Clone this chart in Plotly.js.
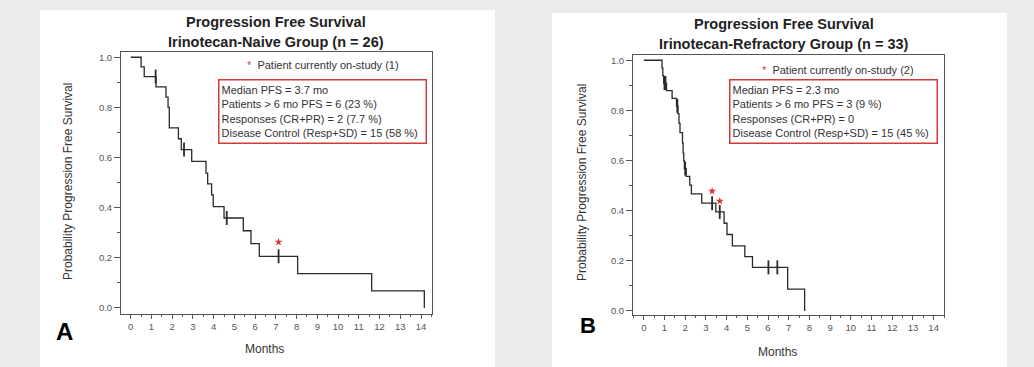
<!DOCTYPE html>
<html>
<head>
<meta charset="utf-8">
<script src="https://cdn.plot.ly/plotly-3.0.1.min.js"></script>
<style>html,body{margin:0;padding:0;background:#ebebeb;}#chart{width:1034px;height:367px;}</style>
</head>
<body>
<div id="chart"></div>
<script>
// ---- Data ----
// Panel A: Irinotecan-Naive Group (n = 26)
const naiveTimes = [0, 0.5, 0.65, 1.22, 1.7, 1.8, 1.86, 2.3, 2.44, 2.94, 3.63, 3.71, 3.9, 3.98, 4.5, 5.43, 5.8, 6.2, 8.05, 11.62, 14.16];
const naiveSurv  = [1.0, 0.962, 0.923, 0.882, 0.841, 0.80, 0.718, 0.675, 0.632, 0.585, 0.538, 0.495, 0.451, 0.404, 0.359, 0.308, 0.257, 0.206, 0.137, 0.068, 0.0];
const naiveCensorTimes = [1.2, 2.57, 4.63, 7.13];
const naiveCensorSurv  = [0.923, 0.632, 0.359, 0.206];
const naiveOnStudyTimes = [7.13];
const naiveOnStudySurv  = [0.263];

// Panel B: Irinotecan-Refractory Group (n = 33)
const refrTimes = [0, 0.88, 0.92, 0.96, 1.1, 1.37, 1.58, 1.65, 1.7, 1.75, 1.87, 1.9, 1.93, 1.96, 2.05, 2.22, 2.3, 2.8, 3.48, 3.88, 4.02, 4.28, 4.88, 5.25, 6.95, 7.77];
const refrSurv  = [1.0, 0.970, 0.939, 0.909, 0.879, 0.848, 0.818, 0.787, 0.748, 0.711, 0.670, 0.630, 0.600, 0.568, 0.537, 0.502, 0.467, 0.430, 0.395, 0.350, 0.305, 0.260, 0.217, 0.174, 0.087, 0.0];
const refrCensorTimes = [1.0, 1.05, 1.62, 2.0, 3.3, 3.67, 6.02, 6.45];
const refrCensorSurv  = [0.909, 0.909, 0.818, 0.568, 0.430, 0.395, 0.174, 0.174];
const refrOnStudyTimes = [3.3, 3.67];
const refrOnStudySurv  = [0.478, 0.438];

// Text
const titleLine1 = "Progression Free Survival";
const titleA = "Irinotecan-Naive Group (n = 26)";
const titleB = "Irinotecan-Refractory Group (n = 33)";
const xTitle = "Months";
const yTitle = "Probability Progression Free Survival";
const noteA = "Patient currently on-study (1)";
const noteB = "Patient currently on-study (2)";
const statsA = ["Median PFS = 3.7 mo", "Patients > 6 mo PFS = 6 (23 %)", "Responses (CR+PR) = 2 (7.7 %)", "Disease Control (Resp+SD) = 15 (58 %)"];
const statsB = ["Median PFS = 2.3 mo", "Patients > 6 mo PFS = 3 (9 %)", "Responses (CR+PR) = 0", "Disease Control (Resp+SD) = 15 (45 %)"];
const xTickVals = [0,1,2,3,4,5,6,7,8,9,10,11,12,13,14];
const yTickVals = [0, 0.2, 0.4, 0.6, 0.8, 1.0];

// ---- Styling ----
const FONT = "Liberation Sans, Arial, Helvetica, sans-serif";
const W = 1034, H = 367;
const px = v => v / W;
const py = v => 1 - v / H;
const lineCol = "#2a2a2a";
const red = "#d23a3a";

function curve(x, y, xa, ya) {
  return {x: x, y: y, xaxis: xa, yaxis: ya, type: "scatter", mode: "lines",
          line: {shape: "hv", color: lineCol, width: 1.3}, hoverinfo: "skip", showlegend: false};
}
function censor(x, y, xa, ya) {
  return {x: x, y: y, xaxis: xa, yaxis: ya, type: "scatter", mode: "markers",
          marker: {symbol: "line-ns", size: 10, color: lineCol, line: {width: 1.8, color: lineCol}},
          hoverinfo: "skip", showlegend: false};
}
function onStudy(x, y, xa, ya) {
  return {x: x, y: y, xaxis: xa, yaxis: ya, type: "scatter", mode: "markers",
          marker: {symbol: "star", size: 6, color: red, line: {width: 0}},
          hoverinfo: "skip", showlegend: false};
}

const data = [
  curve(naiveTimes, naiveSurv, "x", "y"),
  censor(naiveCensorTimes, naiveCensorSurv, "x", "y"),
  onStudy(naiveOnStudyTimes, naiveOnStudySurv, "x", "y"),
  curve(refrTimes, refrSurv, "x2", "y2"),
  censor(refrCensorTimes, refrCensorSurv, "x2", "y2"),
  onStudy(refrOnStudyTimes, refrOnStudySurv, "x2", "y2")
];

function xAxis(domain, range, anchor) {
  return {domain: domain, range: range, anchor: anchor, tickvals: xTickVals,
          ticks: "outside", ticklen: 4, tickwidth: 1, tickcolor: "#555",
          showline: true, linecolor: "#555", linewidth: 1, mirror: true,
          showgrid: false, zeroline: false, fixedrange: true,
          tickfont: {family: FONT, size: 9.5, color: "#555"},
          minor: {dtick: 0.5, tick0: 0, ticks: "outside", ticklen: 2, tickcolor: "#555", showgrid: false}};
}
function yAxis(domain, range, anchor) {
  return {domain: domain, range: range, anchor: anchor, tickvals: yTickVals, tickformat: ".1f",
          ticks: "outside", ticklen: 6, tickwidth: 1, tickcolor: "#555",
          showline: true, linecolor: "#555", linewidth: 1, mirror: true,
          showgrid: false, zeroline: false, fixedrange: true,
          tickfont: {family: FONT, size: 9.5, color: "#555"},
          minor: {dtick: 0.1, tick0: 0, ticks: "outside", ticklen: 3, tickcolor: "#555", showgrid: false}};
}

function txt(x, y, text, opts) {
  return Object.assign({xref: "paper", yref: "paper", x: px(x), y: py(y), text: text, showarrow: false,
                        xanchor: "center", yanchor: "middle",
                        font: {family: FONT, size: 12, color: "#333"}}, opts || {});
}

const titleFont = {family: FONT, size: 14.5, color: "#222"};
const annotations = [
  // titles
  txt(276, 22, "<b>" + titleLine1 + "</b>", {font: titleFont}),
  txt(276, 42, "<b>" + titleA + "</b>", {font: titleFont}),
  txt(784, 24, "<b>" + titleLine1 + "</b>", {font: titleFont}),
  txt(784, 44, "<b>" + titleB + "</b>", {font: titleFont}),
  // axis titles
  txt(264, 349, xTitle),
  txt(777, 352, xTitle),
  txt(68, 182, yTitle, {textangle: -90}),
  txt(582, 183, yTitle, {textangle: -90}),
  // panel letters
  txt(64, 331, "<b>A</b>", {font: {family: FONT, size: 24, color: "#000"}}),
  txt(588, 325, "<b>B</b>", {font: {family: FONT, size: 22, color: "#000"}}),
  // on-study notes
  txt(245, 65, '<span style="color:' + red + '">*</span>  ' + noteA, {xanchor: "left", font: {family: FONT, size: 11, color: "#333"}}),
  txt(760, 70, '<span style="color:' + red + '">*</span>  ' + noteB, {xanchor: "left", font: {family: FONT, size: 11, color: "#333"}}),
  // stats boxes
  txt(218, 78.5, statsA.join("<br>"), {xanchor: "left", yanchor: "top", align: "left", width: 202, height: 58,
      bordercolor: red, borderwidth: 1.5, borderpad: 2, bgcolor: "#fff", valign: "middle",
      font: {family: FONT, size: 11, color: "#333"}}),
  txt(729, 79, statsB.join("<br>"), {xanchor: "left", yanchor: "top", align: "left", width: 202, height: 58,
      bordercolor: red, borderwidth: 1.5, borderpad: 2, bgcolor: "#fff", valign: "middle",
      font: {family: FONT, size: 11, color: "#333"}})
];

const shapes = [
  {type: "rect", xref: "paper", yref: "paper", x0: px(40), x1: px(495), y0: 0, y1: py(10), fillcolor: "#fff", line: {width: 0}, layer: "below"},
  {type: "rect", xref: "paper", yref: "paper", x0: px(552), x1: px(1007), y0: 0, y1: py(13), fillcolor: "#fff", line: {width: 0}, layer: "below"}
];

const layout = {
  width: W, height: H, margin: {l: 0, r: 0, t: 0, b: 0},
  paper_bgcolor: "#ebebeb", plot_bgcolor: "#fff", showlegend: false,
  xaxis: xAxis([px(121), px(432)], [-0.47, 14.53], "y"),
  yaxis: yAxis([py(314), py(52)], [-0.024, 1.021], "x"),
  xaxis2: xAxis([px(633), px(944)], [-0.52, 14.5], "y2"),
  yaxis2: yAxis([py(315), py(55)], [-0.016, 1.021], "x2"),
  annotations: annotations, shapes: shapes
};

Plotly.newPlot("chart", data, layout, {displayModeBar: false, staticPlot: true});
</script>
</body>
</html>
